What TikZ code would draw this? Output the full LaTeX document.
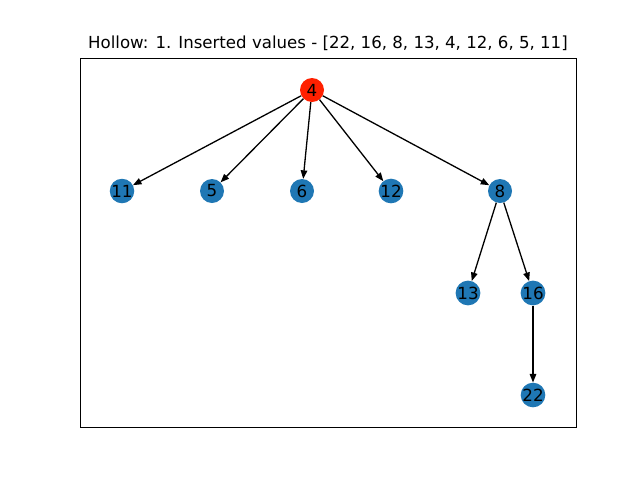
\documentclass[tikz,border=0pt]{standalone}
\usepackage{fontspec}
\setmainfont{DejaVu Sans}
\usepackage{xcolor}
\usetikzlibrary{arrows.meta}
\definecolor{nodeblue}{HTML}{1F77B4}
\definecolor{rootred}{HTML}{FF2000}

\begin{document}
\begin{tikzpicture}[x=1pt, y=-1pt,
    vertex/.style={circle, fill=nodeblue, minimum size=24pt, inner sep=0pt,
      font=\fontsize{16.7}{18}\selectfont},
    root/.style={vertex, fill=rootred},
    edge/.style={-{Stealth[length=8.5pt, width=6.5pt, inset=0pt]}, line width=1.3pt}
    ]
    \useasboundingbox (0,0) rectangle (640,480);
    \draw[line width=1pt] (80,58) rectangle (576,427);
    \node[font=\fontsize{16.6}{18}\selectfont] (title) at (328,43)
      {Hollow: 1. Inserted values - [22, 16, 8, 13, 4, 12, 6, 5, 11]};
    \node[root] (n4) at (312,90) {4};
    \node[vertex] (n11) at (122,191) {11};
    \node[vertex] (n5) at (212,191) {5};
    \node[vertex] (n6) at (302,191) {6};
    \node[vertex] (n12) at (391,191) {12};
    \node[vertex] (n8) at (500,191) {8};
    \node[vertex] (n13) at (468,293) {13};
    \node[vertex] (n16) at (533,293) {16};
    \node[vertex] (n22) at (533,395) {22};
    \foreach \t in {n11, n5, n6, n12, n8}
      \draw[edge] (n4) -- (\t);
    \draw[edge] (n8) -- (n13);
    \draw[edge] (n8) -- (n16);
    \draw[edge] (n16) -- (n22);
  \end{tikzpicture}
\end{document}
